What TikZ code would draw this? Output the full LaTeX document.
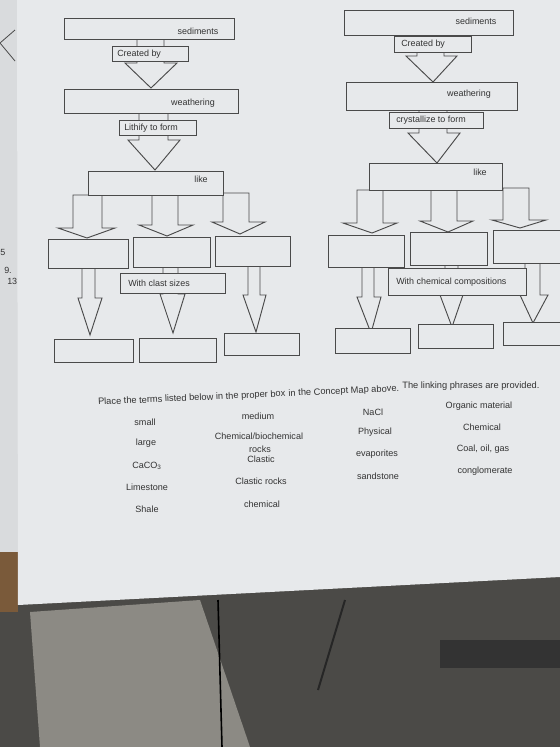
\documentclass[tikz,border=0pt]{standalone}
\usepackage{fontspec}
\setmainfont{Liberation Sans}
\definecolor{paper}{HTML}{E7E9EB}
\definecolor{ink}{HTML}{4A4A4A}
\definecolor{txt}{HTML}{333333}
\definecolor{floor}{HTML}{4B4A47}
\definecolor{fabric}{HTML}{8C8A84}
\definecolor{behind}{HTML}{D9DBDD}
\definecolor{wood}{HTML}{7A5A3A}
\tikzset{
  box/.style={draw=ink, line width=0.7pt, fill=paper},
  arr/.style={draw=ink, line width=0.7pt, fill=paper, line join=miter},
  lbl/.style={font=\fontsize{6.7}{7}\selectfont, text=txt, inner sep=0pt},
  term/.style={font=\fontsize{6.8}{7.4}\selectfont, text=txt, inner sep=0pt, align=center},
  head/.style={font=\fontsize{6.95}{8}\selectfont, text=txt, inner sep=0pt},
  tilt/.style={rotate=2.6}
}
\newcommand{\barrow}[8]{\draw[arr] (#1,#3) -- (#1,#4) -- (#5,#4) -- (#7,#8) -- (#6,#4) -- (#2,#4) -- (#2,#3) -- cycle;}
\begin{document}
\begin{tikzpicture}[x=0.75pt,y=-0.75pt]
\useasboundingbox (0,0) rectangle (560,747);
% background
\fill[floor] (0,0) rectangle (560,747);
\fill[fabric] (30,612) -- (200,600) -- (250,747) -- (40,747) -- cycle;
\fill[behind] (0,0) rectangle (18,552);
\fill[wood] (0,552) rectangle (18,612);
\draw[black, line width=1.2pt] (218,600) -- (222,747);
\draw[black!85, line width=1.5pt] (345,600) -- (318,690);
\fill[black!80] (440,640) rectangle (560,668);
\draw[ink, line width=0.6pt] (15,30) -- (0,43) -- (15,61);
\node[lbl, anchor=west] (fr1) at (0,252) {5};
\node[lbl, anchor=west] (fr2) at (4,270) {9.};
\node[lbl, anchor=west] (fr3) at (7,281) {13};
% paper
\fill[paper] (17,0) -- (560,0) -- (560,577) -- (18,605) -- cycle;

% ===== LEFT MAP =====
\barrow{137}{164}{39}{63}{125}{177}{151}{88}
\barrow{139}{168}{113}{140}{128}{180}{155}{170}
\draw[box] (64,18) rectangle (234,39);
\node[lbl] (ls) at (198,31) {sediments};
\draw[box] (112,46) rectangle (188,61);
\node[lbl, anchor=west] (lc) at (117,54) {Created by};
\draw[box] (64,89) rectangle (238,113);
\node[lbl] (lw) at (193,103) {weathering};
\draw[box] (119,120) rectangle (196,135);
\node[lbl, anchor=west] (ll) at (124,128) {Lithify to form};
% branch arrows
\barrow{73}{102}{195}{228}{58}{115}{87}{238}
\barrow{152}{178}{195}{225}{139}{193}{167}{236}
\barrow{223}{249}{193}{222}{212}{265}{240}{234}
\draw[box] (88,171) rectangle (223,195);
\node[lbl] (lk) at (201,179) {like};
% down arrows
\barrow{82}{95}{268}{298}{78}{102}{90}{335}
\barrow{163}{178}{267}{294}{160}{185}{173}{333}
\barrow{248}{260}{266}{295}{243}{266}{256}{332}
\draw[box] (48,239) rectangle (128,268);
\draw[box] (133,237) rectangle (210,267);
\draw[box] (215,236) rectangle (290,266);
\draw[box] (120,273) rectangle (225,293);
\node[lbl, anchor=west] (lcs) at (128,283) {With clast sizes};
\draw[box] (54,339) rectangle (133,362);
\draw[box] (139,338) rectangle (216,362);
\draw[box] (224,333) rectangle (299,355);

% ===== RIGHT MAP =====
\barrow{417}{444}{35}{56}{406}{457}{433}{82}
\barrow{419}{447}{110}{133}{408}{460}{437}{163}
\draw[box] (344,10) rectangle (513,35);
\node[lbl] (rs) at (476,21) {sediments};
\draw[box] (394,36) rectangle (471,52);
\node[lbl, anchor=west] (rc) at (401,44) {Created by};
\draw[box] (346,82) rectangle (517,110);
\node[lbl] (rw) at (469,94) {weathering};
\draw[box] (389,112) rectangle (483,128);
\node[lbl, anchor=west] (rcr) at (396,120) {crystallize to form};
% branch arrows
\barrow{357}{383}{190}{223}{343}{397}{372}{233}
\barrow{431}{457}{190}{221}{420}{473}{448}{232}
\barrow{503}{529}{188}{220}{492}{546}{520}{228}
\draw[box] (369,163) rectangle (502,190);
\node[lbl] (rk) at (480,172) {like};
% down arrows
\barrow{362}{374}{267}{297}{357}{381}{371}{333}
\barrow{445}{458}{265}{295}{440}{463}{452}{327}
\barrow{525}{540}{263}{295}{520}{548}{533}{323}
\draw[box] (328,235) rectangle (404,267);
\draw[box] (410,232) rectangle (487,265);
\draw[box] (493,230) rectangle (575,263);
\draw[box] (388,268) rectangle (526,295);
\node[lbl, anchor=west] (rcc) at (396,282) {With chemical compositions};
\draw[box] (335,328) rectangle (410,353);
\draw[box] (418,324) rectangle (493,348);
\draw[box] (503,322) rectangle (575,345);

% ===== TERMS =====
\node[head, tilt, anchor=base west] (h1) at (98,405) {Place the terms listed below in the proper box};
\node[head, tilt, anchor=base west] (h2) at (h1.base east) {~in the Concept Map above.};
\node[head, anchor=base west] (h3) at ([yshift=2pt]h2.base east) {~The linking phrases are provided.};
\node[term] (t1) at (145,422) {small};
\node[term] (t2) at (146,443) {large};
\node[term] (t3) at (147,466) {CaCO\textsubscript{3}};
\node[term] (t4) at (147,487) {Limestone};
\node[term] (t5) at (147,509) {Shale};
\node[term] (t6) at (258,416) {medium};
\node[term] (t7) at (259,436) {Chemical/biochemical};
\node[term] (t8) at (260,449) {rocks};
\node[term] (t9) at (261,459) {Clastic};
\node[term] (t10) at (261,481) {Clastic rocks};
\node[term] (t11) at (262,504) {chemical};
\node[term] (t12) at (373,412) {NaCl};
\node[term] (t13) at (375,432) {Physical};
\node[term] (t14) at (377,454) {evaporites};
\node[term] (t15) at (378,476) {sandstone};
\node[term] (t16) at (479,406) {Organic material};
\node[term] (t17) at (482,427) {Chemical};
\node[term] (t18) at (483,449) {Coal, oil, gas};
\node[term] (t19) at (485,471) {conglomerate};
\end{tikzpicture}
\end{document}
